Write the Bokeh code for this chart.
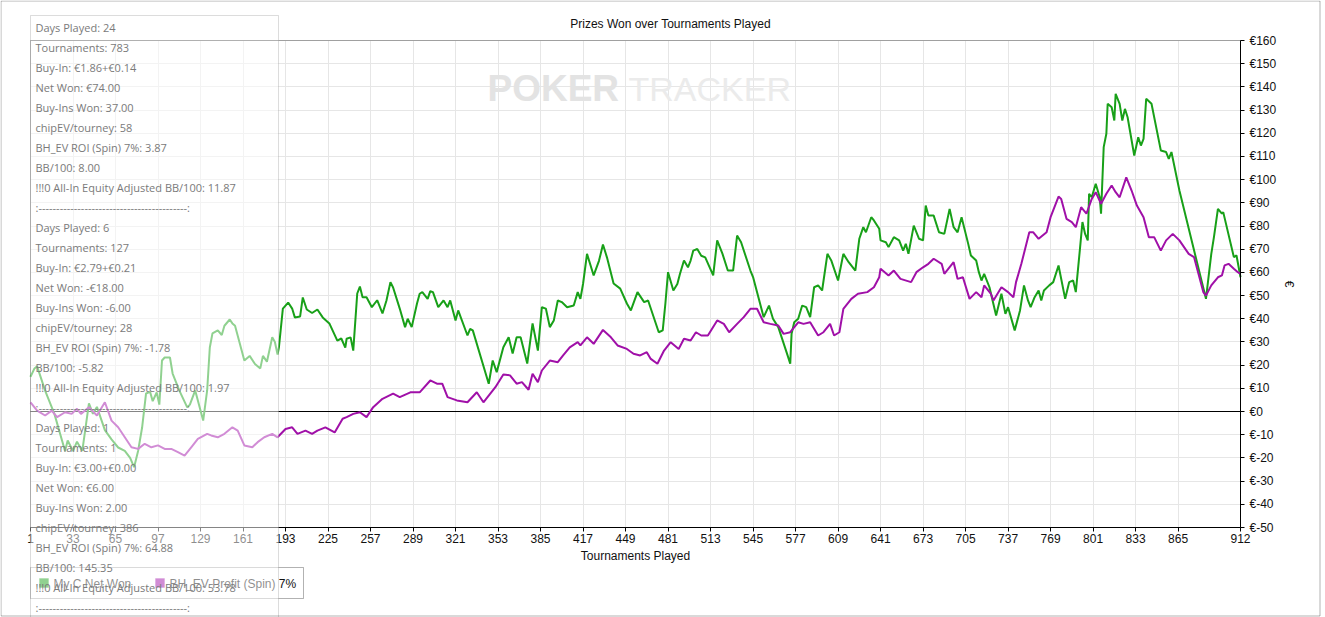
from bokeh.plotting import figure
from bokeh.models import (FixedTicker, Range1d, BoxAnnotation, Label, Grid,
                          PrintfTickFormatter)
from bokeh.embed import file_html
from bokeh.resources import INLINE

# ---------------- data ----------------
net_won_t = [1, 4, 6, 12, 19, 27, 29, 33, 36, 40, 45, 48, 51, 57, 62, 67, 72, 76, 79, 82,
             85, 88, 91, 93, 96, 98, 100, 102, 106, 108, 113, 119, 121, 125, 131, 134, 136,
             138, 142, 145, 147, 151, 153, 155, 162, 166, 170, 174, 176, 179, 183, 185, 187,
             188, 191, 195, 198, 200, 204, 206, 209, 213, 217, 221, 226, 232, 235, 238, 239,
             242, 244, 247, 249, 251, 254, 258, 262, 266, 269, 272, 274, 279, 283, 285, 288,
             292, 294, 296, 300, 302, 304, 308, 312, 315, 317, 321, 323, 330, 332, 334, 346,
             349, 352, 357, 361, 364, 367, 370, 375, 379, 383, 386, 389, 392, 395, 398, 401,
             405, 410, 413, 415, 417, 420, 425, 429, 432, 435, 440, 445, 450, 453, 458, 463,
             466, 474, 477, 479, 481, 485, 488, 490, 493, 496, 498, 500, 503, 506, 509, 515,
             518, 522, 526, 530, 533, 536, 543, 545, 553, 557, 560, 564, 571, 573, 574, 576,
             579, 582, 585, 588, 591, 594, 597, 601, 604, 609, 613, 617, 622, 625, 628, 630,
             634, 636, 640, 641, 645, 647, 651, 655, 658, 660, 662, 666, 670, 673, 675, 677,
             681, 685, 689, 693, 696, 699, 702, 707, 709, 713, 715, 717, 719, 723, 728, 732,
             735, 737, 742, 746, 749, 752, 754, 757, 760, 762, 764, 768, 771, 775, 780, 783,
             786, 788, 791, 793, 795, 797, 798, 800, 803, 806, 807, 809, 811, 812, 815, 817,
             818, 821, 823, 825, 827, 832, 835, 837, 839, 841, 845, 852, 856, 858, 860, 866,
             886, 890, 892, 895, 898, 899, 907, 909, 912]
net_won_v = [15, 18.6, 19.5, 9, -1, -17, -12.5, -17, -13, -17, 3.5, -1, 2, -8, -12, -15.5,
             -17, -20, -24, -17, -7, 7.8, 8.5, 4.5, 8.2, 3, 22, 23.3, 23.3, 16.4, 9.1, 1.8, 3,
             9.1, -3.9, 9.1, 27.6, 33.7, 35, 33, 37, 39.7, 38, 37, 22, 24, 20.5, 18.6, 24,
             21.5, 32, 30, 24.6, 27.6, 44.4, 47, 44.4, 40.6, 41, 49.2, 44, 42.5, 44, 40.6, 38,
             30.6, 31.5, 27.6, 31.4, 32, 26.3, 50.9, 53.9, 49.3, 49.3, 45, 48, 42.3, 47.9,
             55.8, 53.5, 44.4, 36.4, 40, 36.4, 46.6, 50.8, 51.5, 48.6, 51.9, 51.5, 45, 47.9,
             45, 47.9, 39.3, 43.6, 32.8, 35.6, 35, 12, 22, 17, 27.7, 32, 25, 32, 32, 20.7, 38,
             26.3, 45, 44.4, 36.4, 39.3, 47.9, 47.2, 45, 45.7, 51.5, 48.6, 55, 68, 58.7, 65,
             72, 66.5, 55.2, 53, 46.6, 43.6, 51.5, 47.2, 47.9, 34.2, 35, 46.6, 60.1, 52.2, 55,
             59.4, 65.1, 62.2, 65.1, 69.4, 70.1, 67.2, 66.5, 58.7, 73.8, 68, 60.8, 60.8, 75.9,
             73, 60.8, 58, 40.7, 45.7, 40, 36.4, 24.2, 20.6, 33.5, 38.5, 40, 45.7, 45, 40.7,
             53.6, 54.4, 52.2, 68, 65, 56.5, 68, 64.4, 60.8, 74.5, 79.5, 77.3, 83.8, 82.4,
             78.8, 73.8, 73, 70.9, 75.2, 73.8, 69.4, 72.3, 68, 80.2, 74.5, 73.8, 88.8, 84.5,
             84.5, 77.3, 76.6, 87.4, 79.5, 77.3, 83.8, 72.3, 67.3, 65.1, 60.1, 56.5, 59.4,
             53.6, 41.4, 50.8, 42.1, 45, 35, 43.6, 54.4, 47.9, 45, 49.3, 52.2, 47.9, 52.2,
             54.4, 55.8, 63, 48.6, 55.8, 56.5, 51.5, 69.4, 81.7, 76.6, 73.8, 93.9, 92.4, 98.2,
             92.4, 85.3, 114, 119.8, 132.7, 131.2, 125.5, 137, 132.7, 125.5, 130.5, 126.9,
             110.4, 118.3, 114.7, 117.6, 134.9, 132.7, 112.6, 111.9, 109, 111.9, 95.3, 48.6,
             68, 75.2, 87.4, 85.3, 86, 66.6, 67.3, 57.9]

bh_ev_t = [1, 6, 12, 17, 21, 27, 32, 36, 39, 45, 51, 57, 62, 67, 72, 77, 82, 87, 92, 97,
           102, 107, 112, 117, 122, 127, 134, 137, 142, 147, 153, 157, 162, 168, 172, 177,
           183, 187, 193, 198, 202, 208, 213, 217, 223, 230, 236, 239, 244, 249, 254, 259,
           266, 274, 279, 287, 294, 302, 307, 311, 315, 322, 330, 337, 342, 351, 357, 362,
           367, 371, 376, 379, 383, 386, 392, 398, 402, 407, 413, 415, 420, 425, 432, 438,
           443, 450, 455, 460, 465, 468, 473, 478, 483, 489, 493, 498, 502, 506, 511, 518,
           523, 527, 533, 538, 543, 548, 553, 558, 564, 568, 573, 579, 583, 588, 594, 598,
           603, 606, 610, 613, 619, 624, 631, 636, 640, 641, 647, 651, 656, 664, 668, 673,
           677, 681, 687, 689, 696, 699, 703, 708, 713, 717, 719, 724, 726, 732, 737, 741,
           743, 747, 753, 756, 760, 766, 769, 775, 777, 781, 785, 788, 792, 796, 800, 803,
           807, 811, 815, 818, 821, 826, 830, 834, 839, 843, 847, 852, 856, 861, 866, 873,
           877, 884, 886, 890, 895, 898, 900, 903, 907, 910, 912]
bh_ev_v = [4, 0.4, -1.7, 0.4, -2.4, -0.3, -1, 1.2, -1, 1.9, -1.7, 4, -3.9, -6.8, -11.1,
           -15.4, -16.1, -13.9, -15.4, -14.6, -16.1, -16.1, -17.5, -19, -15.4, -11.8, -9.6,
           -10.3, -11.1, -9.6, -6.8, -8.2, -14.6, -15.4, -13.2, -11.1, -9.6, -11.1, -7.5,
           -6.8, -9.6, -8.2, -9.6, -8.2, -6.8, -9, -3.1, -2.4, -1, -0.3, -2.4, 1.9, 5.5, 7.7,
           6.2, 8.3, 8.3, 13.4, 12, 12, 6.2, 4.8, 4, 8.3, 4, 10.5, 16, 15.6, 12, 12.7, 9.4,
           16.3, 12.7, 17.7, 22, 21.3, 24.2, 27.7, 29.9, 28.5, 32, 29.2, 35.2, 32, 28.5, 27,
           24.9, 24.2, 25.6, 22.7, 20.6, 26.3, 29.9, 27, 31.4, 30.6, 34.2, 32.8, 32.8, 39.3,
           37.8, 34.2, 37.8, 40.7, 44.3, 44.3, 38.5, 37.8, 37.1, 33.5, 34.2, 38.5, 37.8,
           38.5, 32.8, 34.2, 37.8, 32.8, 34.2, 44.3, 48.6, 50.8, 51.5, 53.6, 57.9, 61.6,
           58.7, 60.8, 57.2, 55.8, 60.1, 62.2, 63.7, 65.9, 63.7, 59.4, 64.4, 57.2, 57.9,
           48.6, 51.5, 49.3, 54.4, 50.8, 47.9, 53.6, 51.5, 49.3, 55.8, 63.7, 77.3, 77.3,
           74.5, 77.3, 83.8, 92.7, 91.7, 83.1, 81.7, 79.5, 88.1, 85.3, 91.7, 94.6, 89.6,
           93.9, 97.5, 94.6, 92.4, 101, 95.3, 88.8, 83.8, 75.2, 75.2, 69.4, 73.8, 76.6, 73.8,
           68, 66.6, 51.5, 50, 54.4, 57.9, 58.7, 63, 63.7, 61.6, 60.1, 59.4]

series_names = ["My C Net Won", "BH_EV Profit (Spin) 7%"]
x_ticks = [1, 33, 65, 97, 129, 161, 193, 225, 257, 289, 321, 353, 385, 417, 449, 481, 513,
           545, 577, 609, 641, 673, 705, 737, 769, 801, 833, 865, 912]
y_ticks = [-50, -40, -30, -20, -10, 0, 10, 20, 30, 40, 50, 60, 70, 80, 90, 100, 110, 120,
           130, 140, 150, 160]
x_bounds = (1, 912)
y_bounds = (-50, 160)

tooltip_lines = [
    "Days Played: 24", "Tournaments: 783", "Buy-In: €1.86+€0.14", "Net Won: €74.00",
    "Buy-Ins Won: 37.00", "chipEV/tourney: 58", "BH_EV ROI (Spin) 7%: 3.87", "BB/100: 8.00",
    "!!!0 All-In Equity Adjusted BB/100: 11.87", ":" + "-" * 42 + ":",
    "Days Played: 6", "Tournaments: 127", "Buy-In: €2.79+€0.21", "Net Won: -€18.00",
    "Buy-Ins Won: -6.00", "chipEV/tourney: 28", "BH_EV ROI (Spin) 7%: -1.78", "BB/100: -5.82",
    "!!!0 All-In Equity Adjusted BB/100: 1.97", ":" + "-" * 42 + ":",
    "Days Played: 1", "Tournaments: 1", "Buy-In: €3.00+€0.00", "Net Won: €6.00",
    "Buy-Ins Won: 2.00", "chipEV/tourney: 386", "BH_EV ROI (Spin) 7%: 64.88", "BB/100: 145.35",
    "!!!0 All-In Equity Adjusted BB/100: 53.78", ":" + "-" * 42 + ":",
]

# ---------------- layout (page pixel coordinates) ----------------
W, H = 1325, 617
FL, FR, FT, FB = 30, 1240, 40, 527          # plot area in page pixels
GREEN = "#18A018"
PURPLE = "#A010A8"
FONT = "Liberation Sans"

# the frame covers the whole canvas; ranges are extended so that the
# bounds land on the plot-area pixels, and the axes are pinned there
kx = (x_bounds[1] - x_bounds[0]) / (FR - FL)
ky = (y_bounds[1] - y_bounds[0]) / (FB - FT)
x_range = Range1d(x_bounds[0] - FL * kx, x_bounds[1] + (W - FR) * kx)
y_range = Range1d(y_bounds[0] - (H - FB) * ky, y_bounds[1] + FT * ky)


def sy(py):
    return H - py


def screen_box(left, right, top, bottom, **kw):
    return BoxAnnotation(left=left, right=right, top=sy(top), bottom=sy(bottom),
                         left_units="screen", right_units="screen", top_units="screen",
                         bottom_units="screen", **kw)


def screen_label(x, y, text, **kw):
    return Label(x=x, y=sy(y), x_units="screen", y_units="screen", text=text, **kw)


p = figure(width=W, height=H, x_range=x_range, y_range=y_range,
           y_axis_location="right", output_backend="svg", toolbar_location=None,
           min_border=0, min_border_left=0, min_border_right=0, min_border_top=0,
           min_border_bottom=0)
p.title.visible = False
p.outline_line_color = None
p.background_fill_color = "white"
p.border_fill_color = "white"

# grid, restricted to the plot area
p.xgrid.ticker = FixedTicker(ticks=x_ticks)
p.ygrid.ticker = FixedTicker(ticks=y_ticks)
p.xgrid.cross_bounds = y_bounds
p.ygrid.cross_bounds = x_bounds
p.grid.grid_line_color = "#e6e6e6"
p.grid.grid_line_width = 1
zero_line = Grid(dimension=1, ticker=FixedTicker(ticks=[0]), cross_bounds=x_bounds,
                 grid_line_color="black", grid_line_width=1)
p.add_layout(zero_line)

# plot-area outline
p.add_layout(BoxAnnotation(left=x_bounds[0], right=x_bounds[1], bottom=y_bounds[0],
                           top=y_bounds[1], fill_color=None, fill_alpha=0,
                           line_color="black", line_width=1, level="underlay"))

# axes pinned to the plot area
p.xaxis.fixed_location = y_bounds[0]
p.yaxis.fixed_location = x_bounds[1]
p.xaxis.bounds = x_bounds
p.yaxis.bounds = y_bounds
p.xaxis.ticker = FixedTicker(ticks=x_ticks)
p.yaxis.ticker = FixedTicker(ticks=y_ticks)
p.yaxis.formatter = PrintfTickFormatter(format="€%d")
for ax in (p.xaxis, p.yaxis):
    ax.axis_line_color = "black"
    ax.major_tick_line_color = "black"
    ax.major_tick_out = 4
    ax.major_tick_in = 0
    ax.minor_tick_line_color = None
    ax.major_label_text_font = FONT
    ax.major_label_text_font_size = "12px"
    ax.major_label_text_color = "#111111"
    ax.axis_label_text_font = FONT
    ax.axis_label_text_font_size = "12px"
    ax.axis_label_text_font_style = "normal"
    ax.axis_label_text_color = "#111111"
p.xaxis.axis_label = "Tournaments Played"
p.xaxis.major_label_standoff = 2
p.xaxis.axis_label_standoff = 3
p.yaxis.axis_label = "€"
p.yaxis.major_label_standoff = 5
p.yaxis.axis_label_standoff = 3

# watermark
p.add_layout(screen_label(487, 88, "POKER", text_font=FONT, text_font_style="bold",
                          text_font_size="37px", text_color="#e3e3e3",
                          text_baseline="middle", level="underlay"))
p.add_layout(screen_label(628, 88, "TRACKER", text_font=FONT, text_font_size="34px",
                          text_color="#ebebeb", text_baseline="middle", level="underlay"))

# series
p.line(net_won_t, net_won_v, line_color=GREEN, line_width=2)
p.line(bh_ev_t, bh_ev_v, line_color=PURPLE, line_width=2)

# title
p.add_layout(screen_label(670, 23, "Prizes Won over Tournaments Played", text_font=FONT,
                          text_font_size="12px", text_color="#111111", text_align="center",
                          text_baseline="middle"))

# legend (drawn at annotation level so the tooltip panel can lie over it)
p.add_layout(screen_box(30, 303, 567, 598, fill_color="white", fill_alpha=1,
                        line_color="black", line_width=1, level="annotation"))
for name, color, x0 in ((series_names[0], GREEN, 39), (series_names[1], PURPLE, 155)):
    p.add_layout(screen_box(x0, x0 + 9, 578, 587, fill_color=color, fill_alpha=1,
                            line_color=color, line_width=1, level="annotation"))
    p.add_layout(screen_label(x0 + 14, 583, name, text_font=FONT, text_font_size="12px",
                              text_color="#111111", text_baseline="middle",
                              level="annotation"))

# tooltip overlay panel
p.add_layout(screen_box(30, 278, 40, 660, fill_color="white", fill_alpha=0.52,
                        line_color="#8a8a8a", line_width=1, level="overlay"))
p.add_layout(screen_box(30, 278, 15, 40, fill_color="white", fill_alpha=0.52,
                        line_color="#8a8a8a", line_width=1, level="overlay"))
for i, line in enumerate(tooltip_lines):
    p.add_layout(screen_label(35, 27 + 20 * i, line, text_font="Open Sans",
                              text_font_size="11px", text_color="#7a7a7a",
                              text_baseline="middle", level="overlay"))

# outer border of the picture
p.add_layout(screen_box(0.5, 1319.5, 0.5, 615.5, fill_alpha=0, fill_color=None,
                        line_color="black", line_width=1, level="overlay"))

open("out.html", "w").write(file_html(p, INLINE))
